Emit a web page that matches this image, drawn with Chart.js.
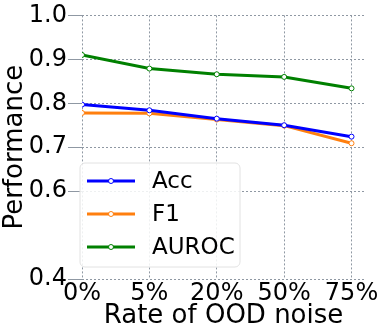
<!DOCTYPE html>
<html lang="en">
<head>
<meta charset="utf-8">
<title>OOD noise</title>
<script src="https://cdn.jsdelivr.net/npm/chart.js@4.4.0/dist/chart.umd.min.js"></script>
<style>
  html, body { margin: 0; padding: 0; background: #fff; }
</style>
</head>
<body>
<canvas id="myChart" width="382" height="332"></canvas>
<script>
// data
const noiseRates = ['0%', '5%', '20%', '50%', '75%'];
const accValues = [0.797, 0.784, 0.765, 0.750, 0.724];
const f1Values = [0.778, 0.777, 0.763, 0.749, 0.709];
const aurocValues = [0.910, 0.879, 0.866, 0.860, 0.834];
const yTickValues = [0.4, 0.6, 0.7, 0.8, 0.9, 1.0];

const FONT = 'DejaVu Sans';
const gridColor = '#8f98a3';

function toPoints(vals) {
    return vals.map(function (v, i) { return { x: i, y: v }; });
}

function makeSet(label, vals, color) {
    return {
        label: label,
        data: toPoints(vals),
        borderColor: color,
        backgroundColor: '#ffffff',
        borderWidth: 3,
        pointRadius: 2.5,
        pointBorderWidth: 1,
        pointBackgroundColor: '#ffffff',
        pointBorderColor: color,
        tension: 0
    };
}

// legend drawn inside the plot, lower left
const boxLegend = {
    id: 'boxLegend',
    afterDraw(chart) {
        const ctx = chart.ctx;
        const x = 80, y = 163, w = 160, h = 104, r = 5;
        ctx.save();
        ctx.setLineDash([]);
        ctx.beginPath();
        ctx.roundRect(x, y, w, h, r);
        ctx.fillStyle = 'rgba(255,255,255,0.85)';
        ctx.fill();
        ctx.strokeStyle = '#e2e2e2';
        ctx.lineWidth = 1;
        ctx.stroke();
        ctx.font = '23px "' + FONT + '"';
        ctx.textBaseline = 'middle';
        chart.data.datasets.forEach(function (ds, i) {
            const ry = 181 + i * 33;
            ctx.beginPath();
            ctx.moveTo(87, ry);
            ctx.lineTo(135, ry);
            ctx.strokeStyle = ds.borderColor;
            ctx.lineWidth = 3;
            ctx.stroke();
            ctx.beginPath();
            ctx.arc(111, ry, 2.5, 0, Math.PI * 2);
            ctx.fillStyle = '#ffffff';
            ctx.fill();
            ctx.lineWidth = 1;
            ctx.stroke();
            ctx.fillStyle = '#000000';
            ctx.fillText(ds.label, 152, ry + 1);
        });
        ctx.restore();
    }
};

const ctx = document.getElementById('myChart').getContext('2d');
const myChart = new Chart(ctx, {
    type: 'line',
    data: {
        datasets: [
            makeSet('Acc', accValues, '#0000ff'),
            makeSet('F1', f1Values, '#ff7f0e'),
            makeSet('AUROC', aurocValues, '#008000')
        ]
    },
    options: {
        responsive: false,
        animation: false,
        layout: { padding: { top: 11, right: 17, left: 0, bottom: 0 } },
        plugins: {
            legend: { display: false },
            tooltip: { enabled: false }
        },
        scales: {
            x: {
                type: 'linear',
                min: 0,
                max: 4.2,
                afterBuildTicks: function (scale) {
                    scale.ticks = noiseRates.map(function (l, i) { return { value: i }; });
                },
                afterFit: function (scale) { scale.height = 53; },
                border: { display: false, dash: [2, 2] },
                grid: {
                    color: gridColor,
                    lineWidth: 1,
                    tickLength: 0
                },
                ticks: {
                    font: { family: FONT, size: 24 },
                    color: '#000',
                    padding: 0,
                    maxRotation: 0,
                    autoSkip: false,
                    callback: function (v) { return noiseRates[v]; }
                },
                title: {
                    display: true,
                    text: 'Rate of OOD noise',
                    font: { family: FONT, size: 26 },
                    color: '#000',
                    padding: { top: 0, bottom: 0 }
                }
            },
            y: {
                min: 0.4,
                max: 1.0,
                afterBuildTicks: function (scale) {
                    scale.ticks = yTickValues.map(function (v) { return { value: v }; });
                },
                afterFit: function (scale) { scale.width = 82; },
                border: { display: false, dash: [2, 2] },
                grid: {
                    color: gridColor,
                    lineWidth: 1,
                    tickLength: 14
                },
                ticks: {
                    font: { family: FONT, size: 24 },
                    color: '#000',
                    padding: 1,
                    callback: function (v) { return v.toFixed(1); }
                },
                title: {
                    display: true,
                    text: 'Performance',
                    font: { family: FONT, size: 26 },
                    color: '#000',
                    padding: { top: 0, bottom: 0 }
                }
            }
        }
    },
    plugins: [boxLegend]
});
</script>
</body>
</html>
